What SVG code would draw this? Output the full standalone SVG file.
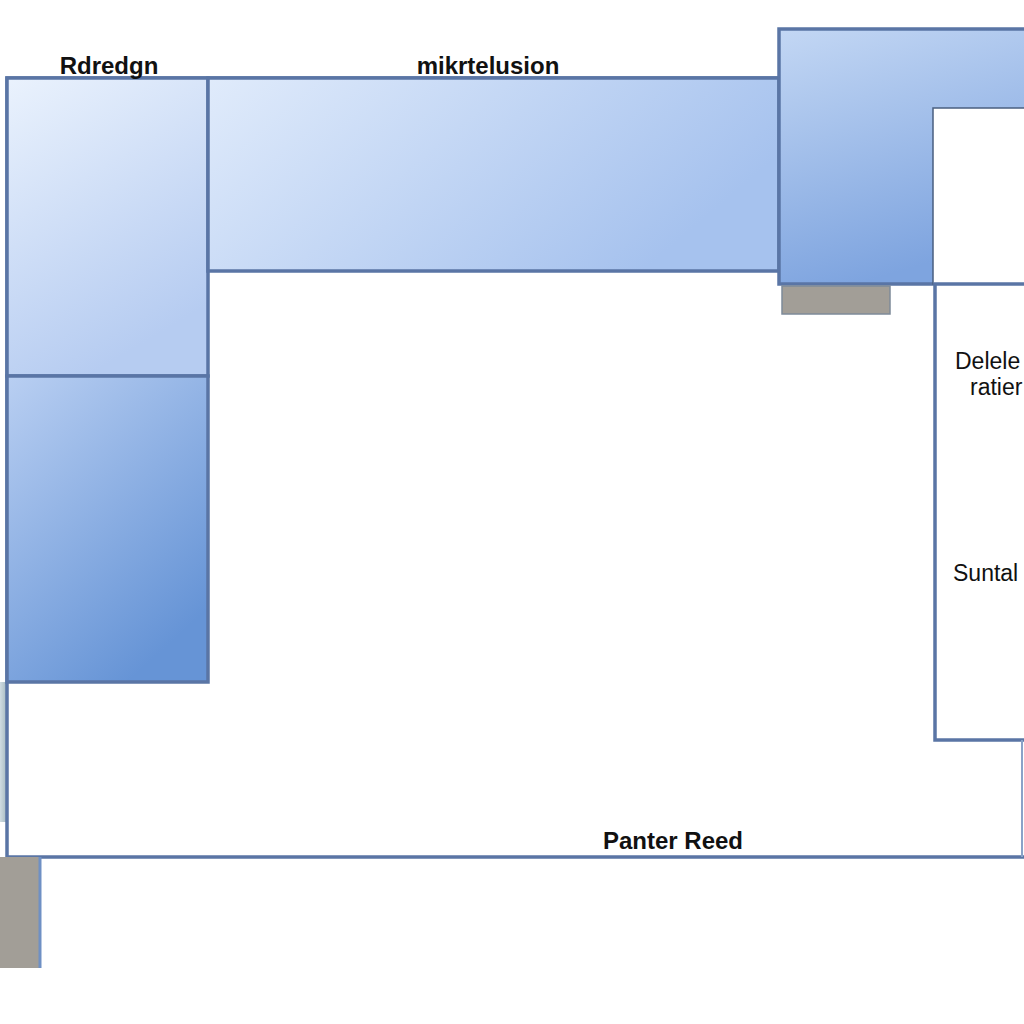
<svg xmlns="http://www.w3.org/2000/svg" width="1024" height="1024" viewBox="0 0 1024 1024">
<defs>
<linearGradient id="gTop" x1="0" y1="0" x2="0.4" y2="1"><stop offset="0" stop-color="#eaf2fd"/><stop offset="1" stop-color="#b6ccf1"/></linearGradient>
<linearGradient id="gBot" x1="0" y1="0" x2="0.6" y2="1"><stop offset="0" stop-color="#b9cff2"/><stop offset="1" stop-color="#6694d6"/></linearGradient>
<linearGradient id="gBand" x1="0" y1="0" x2="1" y2="0.4"><stop offset="0" stop-color="#e0ebfb"/><stop offset="1" stop-color="#a6c2ee"/></linearGradient>
<linearGradient id="gTR" x1="0" y1="0" x2="0.3" y2="1"><stop offset="0" stop-color="#c3d7f4"/><stop offset="1" stop-color="#7ea4df"/></linearGradient>
<linearGradient id="gShadow" x1="0" y1="0" x2="1" y2="0"><stop offset="0" stop-color="#9fb8c4"/><stop offset="1" stop-color="#3f6a78"/></linearGradient>
</defs>
<style>
.frame{fill:none;stroke:#5a75a5;stroke-width:3.5}
.box{stroke:#5a75a5;stroke-width:3.5}
.gray{fill:#a29e97;stroke:#7e8a99;stroke-width:1.5}
.lbl{font-family:"Liberation Sans",Arial,sans-serif;fill:#111;font-weight:bold}
.lbl2{font-family:"Liberation Sans",Arial,sans-serif;fill:#111}
</style>
<rect width="1024" height="1024" fill="#ffffff"/>
<g id="shadow"><rect x="0" y="682" width="8" height="140" fill="url(#gShadow)" opacity="0.5"/></g>
<g id="frame"><rect class="frame" x="7" y="78" width="1030" height="779"/></g>
<g id="bottom-gray"><rect x="0" y="857" width="40" height="111" fill="#a29e97"/><line x1="40" y1="857" x2="40" y2="968" stroke="#6f90c4" stroke-width="3"/></g>
<g id="left-top"><rect class="box" x="7" y="78" width="201" height="298" fill="url(#gTop)"/></g>
<g id="left-bottom"><rect class="box" x="7" y="376" width="201" height="306" fill="url(#gBot)"/></g>
<g id="top-band"><rect class="box" x="208" y="78" width="571" height="193" fill="url(#gBand)"/></g>
<g id="top-right"><rect class="box" x="779" y="29" width="260" height="255" fill="url(#gTR)"/><rect x="933" y="108" width="100" height="176" fill="#ffffff" stroke="#4a5f80" stroke-width="1.5"/></g>
<g id="gray-small"><rect class="gray" x="782" y="286" width="108" height="28"/></g>
<g id="right-panel"><rect class="box" x="935" y="284" width="100" height="456" fill="#ffffff"/><line x1="1022" y1="740" x2="1022" y2="857" stroke="#8aa2c8" stroke-width="2"/></g>
<g id="labels">
<text class="lbl" x="109" y="74" font-size="24" text-anchor="middle">Rdredgn</text>
<text class="lbl" x="488" y="74" font-size="24" text-anchor="middle">mikrtelusion</text>
<text class="lbl2" x="955" y="369" font-size="23">Delele</text>
<text class="lbl2" x="970" y="395" font-size="23">ratier</text>
<text class="lbl2" x="953" y="581" font-size="23">Suntal</text>
<text class="lbl" x="673" y="849" font-size="24" text-anchor="middle">Panter Reed</text>
</g>
</svg>
